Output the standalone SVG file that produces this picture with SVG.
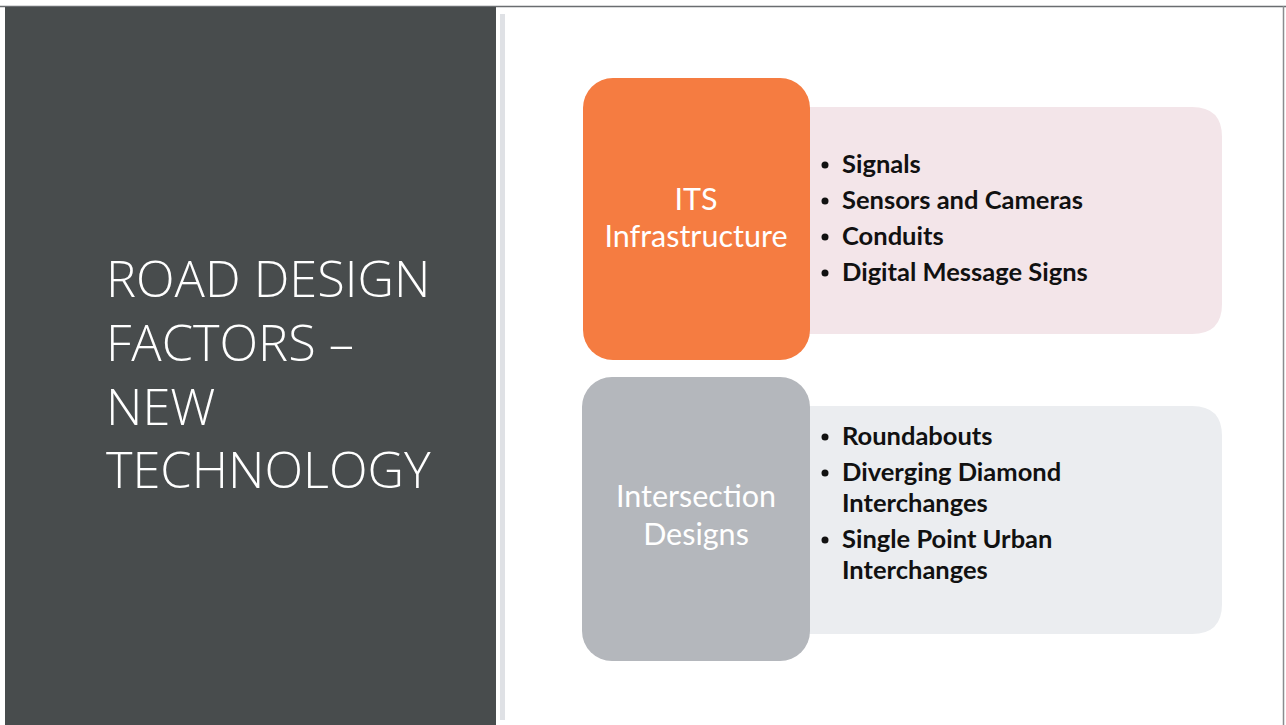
<svg xmlns="http://www.w3.org/2000/svg" width="1286" height="725" viewBox="0 0 1286 725">
<style>
.title{font-family:"Open Sans","Liberation Sans",sans-serif;font-weight:300;font-size:50.5px;fill:#ffffff}
.lbl{font-family:Lato,"Open Sans","Liberation Sans",sans-serif;font-size:30.5px;fill:#ffffff;text-anchor:middle}
.item{font-family:Lato,"Open Sans","Liberation Sans",sans-serif;font-weight:bold;font-size:25.5px;fill:#111111}
.dot{fill:#111111}
</style>
<rect x="0" y="0" width="1286" height="725" fill="#ffffff"/>
<line x1="0" y1="6.5" x2="1286" y2="6.5" stroke="#6a6d70" stroke-width="1.5"/>
<line x1="1283.5" y1="6" x2="1283.5" y2="725" stroke="#8a8c8e" stroke-width="1.5"/>
<rect x="5" y="7" width="491" height="718" fill="#484c4d"/>
<rect x="500" y="14" width="5" height="706" fill="#dfe1e5"/>
<g id="title">
<text class="title" x="106" y="297">ROAD DESIGN</text>
<text class="title" x="106" y="361">FACTORS –</text>
<text class="title" x="106" y="425">NEW</text>
<text class="title" x="106" y="488">TECHNOLOGY</text>
</g>
<g id="its-list">
<path d="M808 107 H1192 Q1222 107 1222 137 V304 Q1222 334 1192 334 H808 Z" fill="#f3e5e9"/>
<circle class="dot" cx="825" cy="165" r="3.5"/>
<circle class="dot" cx="825" cy="201" r="3.5"/>
<circle class="dot" cx="825" cy="237" r="3.5"/>
<circle class="dot" cx="825" cy="273" r="3.5"/>
<text class="item"><tspan x="842" y="173">Signals</tspan><tspan x="842" y="209">Sensors and Cameras</tspan><tspan x="842" y="245">Conduits</tspan><tspan x="842" y="281">Digital Message Signs</tspan></text>
</g>
<g id="its">
<rect x="583" y="78" width="227" height="282" rx="30" fill="#f57c41"/>
<text class="lbl" x="696" y="210">ITS</text>
<text class="lbl" x="696" y="247">Infrastructure</text>
</g>
<g id="int-list">
<path d="M808 406 H1192 Q1222 406 1222 436 V604 Q1222 634 1192 634 H808 Z" fill="#ebedf0"/>
<circle class="dot" cx="825" cy="437" r="3.5"/>
<circle class="dot" cx="825" cy="473" r="3.5"/>
<circle class="dot" cx="825" cy="540" r="3.5"/>
<text class="item"><tspan x="842" y="445">Roundabouts</tspan><tspan x="842" y="481">Diverging Diamond</tspan><tspan x="842" y="512">Interchanges</tspan><tspan x="842" y="548">Single Point Urban</tspan><tspan x="842" y="579">Interchanges</tspan></text>
</g>
<g id="intersection">
<rect x="582" y="377" width="228" height="284" rx="30" fill="#b4b7bc"/>
<text class="lbl" x="696" y="507">Intersection</text>
<text class="lbl" x="696" y="545">Designs</text>
</g>
<g id="connectors"></g>
</svg>
